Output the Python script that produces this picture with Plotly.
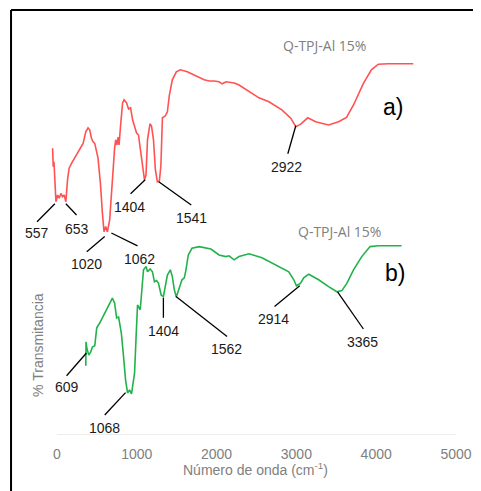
import plotly.graph_objects as go

# ---- Data (wavenumber cm-1, transmittance arbitrary units) ----
wn_a = [-54, -46, -37, -25, -12, 9, 29, 50, 71, 91, 112, 133, 153, 183, 246, 328, 362, 390, 411, 433,
        453, 474, 515, 545, 570, 590, 611, 632, 661, 682, 702, 723, 736, 752, 767, 779, 798, 823, 842, 873,
        898, 923, 948, 973, 998, 1022, 1047, 1072, 1097, 1116, 1135, 1166, 1185, 1210, 1234, 1259, 1284, 1303, 1322, 1359,
        1384, 1409, 1446, 1496, 1546, 1633, 1721, 1783, 1845, 1908, 1970, 2032, 2070, 2120, 2220, 2282, 2407, 2531, 2656, 2818,
        2930, 2993, 3055, 3142, 3242, 3404, 3529, 3628, 3716, 3840, 3940, 4027, 4152, 4464]
t_a = [71.7, 67.1, 68.3, 63.8, 58.3, 60.0, 59.2, 60.4, 59.6, 60.0, 58.3, 63.8, 66.7, 67.9, 70.0, 72.9, 75.8, 76.8, 76.3, 74.2,
       73.3, 72.9, 69.2, 62.9, 55.4, 50.8, 52.1, 50.8, 53.8, 59.6, 67.1, 71.7, 73.8, 72.5, 74.5, 72.5, 77.5, 83.0, 83.8, 83.0,
       81.5, 81.8, 78.8, 76.8, 75.5, 75.0, 71.3, 66.8, 63.8, 65.0, 73.8, 77.8, 77.3, 73.8, 66.3, 63.3, 63.5, 67.5, 79.3, 79.8,
       80.8, 85.0, 88.8, 90.8, 91.3, 90.8, 90.0, 89.3, 88.8, 88.5, 88.5, 88.3, 87.8, 88.3, 88.0, 87.5, 86.0, 84.3, 83.3, 81.3,
       79.2, 77.1, 77.7, 79.3, 78.3, 77.5, 78.3, 79.4, 82.5, 87.9, 91.3, 92.7, 92.8, 92.8]

wn_b = [362, 365, 374, 399, 424, 445, 474, 499, 536, 620, 695, 723, 748, 773, 807, 835, 860, 885, 910, 935,
        973, 994, 1010, 1044, 1056, 1085, 1118, 1135, 1168, 1197, 1222, 1247, 1272, 1306, 1334, 1359, 1384, 1421, 1446, 1471,
        1496, 1534, 1567, 1596, 1617, 1646, 1692, 1783, 1929, 2032, 2116, 2157, 2220, 2282, 2407, 2569, 2739, 2905, 2968, 3001,
        3051, 3092, 3155, 3279, 3404, 3508, 3570, 3632, 3716, 3819, 3924, 4027, 4318]
t_b = [17.3, 23.3, 21.8, 20.0, 20.8, 22.0, 22.3, 26.8, 28.0, 31.3, 34.2, 33.0, 29.3, 29.5, 25.5, 19.6, 13.8, 10.5, 11.3, 10.3,
       15.5, 25.5, 32.5, 31.3, 35.0, 41.3, 42.1, 40.8, 41.5, 40.8, 38.3, 38.6, 38.0, 35.0, 34.6, 37.1, 40.0, 41.3, 39.6, 36.3,
       34.5, 36.8, 38.8, 39.3, 41.3, 45.0, 46.7, 47.1, 46.5, 45.0, 44.6, 44.8, 43.8, 44.6, 45.3, 44.3, 42.5, 40.8, 38.8, 37.3,
       37.9, 39.3, 40.2, 38.8, 37.1, 35.8, 36.1, 37.9, 41.3, 44.6, 47.1, 47.3, 47.3]

# Peak labels: text, peak point, leader end, label position
peak_text = ["557", "653", "1020", "1062", "1404", "1541", "2922",
             "609", "1068", "1404", "1562", "2914", "3365"]
peak_x = [-25, 112, 599, 682, 1106, 1276, 2993, 370, 860, 1334, 1492, 3042, 3516]
peak_y = [57.8, 57.8, 49.6, 50.5, 63.8, 63.3, 77.3, 20.5, 10.6, 34.3, 34.6, 37.3, 35.8]
lead_x = [-249, 246, 374, 1010, 923, 1683, 2893, 121, 599, 1334, 2132, 2727, 3840]
lead_y = [53.3, 55.0, 45.8, 47.3, 60.3, 57.5, 70.3, 14.8, 5.0, 29.3, 24.6, 32.1, 26.5]
lab_x = [-253, 246, 370, 1035, 910, 1680, 2880, 121, 599, 1334, 2120, 2718, 3828]
lab_y = [50.5, 51.5, 42.8, 44.0, 57.0, 54.3, 67.0, 12.0, 1.8, 26.0, 21.5, 29.0, 23.3]

series_names = ["Q-TPJ-Al 15%", "Q-TPJ-Al 15%"]
name_x = [3354, 3541]
name_y = [97.5, 51.0]
panel_tags = ["a)", "b)"]
tag_x = [4215, 4240]
tag_y = [82.0, 40.5]

x_ticks = [0, 1000, 2000, 3000, 4000, 5000]

RED = "#ff5252"
GREEN = "#22b24c"
GRAY = "#808080"
FONT = "Liberation Sans, Arial, sans-serif"

fig = go.Figure()
fig.add_trace(go.Scatter(x=wn_a, y=t_a, mode="lines", line=dict(color=RED, width=1.6),
                         hoverinfo="skip", showlegend=False, cliponaxis=False))
fig.add_trace(go.Scatter(x=wn_b, y=t_b, mode="lines", line=dict(color=GREEN, width=1.6),
                         hoverinfo="skip", showlegend=False, cliponaxis=False))

# leader lines
lx, ly = [], []
for i in range(len(peak_text)):
    lx += [peak_x[i], lead_x[i], None]
    ly += [peak_y[i], lead_y[i], None]
fig.add_trace(go.Scatter(x=lx, y=ly, mode="lines", line=dict(color="black", width=1.3),
                         hoverinfo="skip", showlegend=False))

for i, t in enumerate(peak_text):
    fig.add_annotation(x=lab_x[i], y=lab_y[i], text=t, showarrow=False,
                       xanchor="center", yanchor="middle",
                       font=dict(family=FONT, size=14, color="#1a1a1a"))
for i, t in enumerate(series_names):
    fig.add_annotation(x=name_x[i], y=name_y[i], text=t, showarrow=False,
                       xanchor="center", yanchor="middle",
                       font=dict(family="Open Sans, sans-serif", size=14, color=GRAY))
for i, t in enumerate(panel_tags):
    fig.add_annotation(x=tag_x[i], y=tag_y[i], text=t, showarrow=False,
                       xanchor="center", yanchor="middle",
                       font=dict(family=FONT, size=23, color="black"))

# axis titles
fig.add_annotation(xref="x", yref="paper", x=2494, y=-0.085, text="Número de onda (cm<sup>-1</sup>)",
                   showarrow=False, xanchor="center", yanchor="middle",
                   font=dict(family=FONT, size=14, color=GRAY))
fig.add_annotation(xref="paper", yref="paper", x=0.0476, y=0.225, text="% Transmitancia",
                   textangle=-90, showarrow=False, xanchor="center", yanchor="middle",
                   font=dict(family=FONT, size=14, color=GRAY))

# x-axis baseline
fig.add_shape(type="line", xref="x", yref="y", x0=x_ticks[0], x1=x_ticks[-1], y0=0, y1=0,
              line=dict(color="#d9d9d9", width=1))
# outer frame (top and left edges; right and bottom fall outside the picture)
fig.add_shape(type="line", xref="paper", yref="paper", x0=-0.0136, x1=1.2, y0=1.0625, y1=1.0625,
              line=dict(color="black", width=2), layer="above")
fig.add_shape(type="line", xref="paper", yref="paper", x0=-0.0136, x1=-0.0136, y0=-0.3, y1=1.0625,
              line=dict(color="black", width=2), layer="above")

fig.update_layout(
    width=473, height=483,
    margin=dict(l=9, r=23, t=27, b=56),
    paper_bgcolor="white", plot_bgcolor="white",
    xaxis=dict(range=[-500, 5000], tickvals=x_ticks, showgrid=False, zeroline=False,
               showline=False, ticks="", tickfont=dict(family=FONT, size=14, color=GRAY),
               ticklabelstandoff=9),
    yaxis=dict(range=[0, 100], showgrid=False, zeroline=False, showline=False,
               showticklabels=False, ticks=""),
)

fig.write_html("out.html")
